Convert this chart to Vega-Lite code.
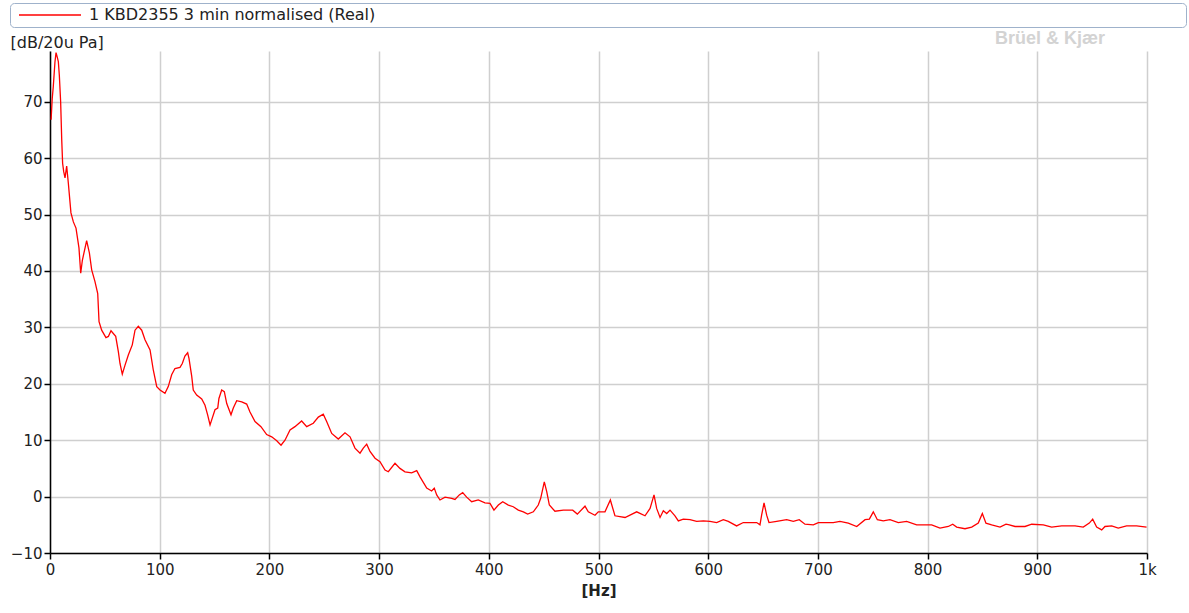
{
  "$schema": "https://vega.github.io/schema/vega-lite/v6.json",
  "width": 1097,
  "height": 502,
  "autosize": {"type": "none"},
  "padding": {"left": 50, "top": 51, "right": 42, "bottom": 60},
  "background": "#ffffff",
  "title": {"text": "Brüel & Kjær", "anchor": "end", "frame": "group", "dx": -42, "offset": -45, "font": "Liberation Sans", "fontSize": 18, "fontWeight": "bold", "color": "#d3d3d3"},
  "config": {"view": {"stroke": null}},
  "data": {"values": [
    {"f": 1, "db": 66.8}, {"f": 2, "db": 70.5}, {"f": 3, "db": 72.7}, {"f": 4.5, "db": 77}, {"f": 5.5, "db": 78.7}, {"f": 6.5, "db": 78}, {"f": 7.6, "db": 77.1}, {"f": 8.5, "db": 74.7}, {"f": 9.7, "db": 70}, {"f": 10.7, "db": 63.2}, {"f": 11.5, "db": 59.1}, {"f": 12.5, "db": 57.6}, {"f": 13.7, "db": 56.5}, {"f": 15.2, "db": 58.6}, {"f": 16.7, "db": 55.6}, {"f": 19.1, "db": 50.3}, {"f": 21.3, "db": 48.7}, {"f": 23.7, "db": 47.6}, {"f": 26.4, "db": 44.1}, {"f": 28, "db": 39.6}, {"f": 29.5, "db": 41.9}, {"f": 33.4, "db": 45.4}, {"f": 35.9, "db": 43.2}, {"f": 38, "db": 40.2}, {"f": 41, "db": 38.1}, {"f": 43.5, "db": 36}, {"f": 44.7, "db": 31}, {"f": 47.1, "db": 29.5}, {"f": 51, "db": 28.2}, {"f": 53.2, "db": 28.4}, {"f": 55.6, "db": 29.4}, {"f": 59.9, "db": 28.4}, {"f": 62.3, "db": 25.7}, {"f": 63.8, "db": 23.6}, {"f": 65.9, "db": 21.7}, {"f": 68.4, "db": 23.3}, {"f": 71.4, "db": 25.1}, {"f": 75, "db": 26.9}, {"f": 77.5, "db": 29.5}, {"f": 80.5, "db": 30.2}, {"f": 83.6, "db": 29.5}, {"f": 86.6, "db": 27.8}, {"f": 91.2, "db": 26}, {"f": 94.2, "db": 22.4}, {"f": 97.3, "db": 19.5}, {"f": 100.3, "db": 18.9}, {"f": 104.8, "db": 18.3}, {"f": 107.8, "db": 19.5}, {"f": 110.9, "db": 21.6}, {"f": 113.9, "db": 22.7}, {"f": 118.5, "db": 22.9}, {"f": 120.6, "db": 23.6}, {"f": 123, "db": 24.9}, {"f": 125.5, "db": 25.5}, {"f": 126.7, "db": 24.5}, {"f": 129.2, "db": 21.3}, {"f": 130.6, "db": 18.9}, {"f": 133.7, "db": 18}, {"f": 138.3, "db": 17.3}, {"f": 141.3, "db": 16.2}, {"f": 143.7, "db": 14.5}, {"f": 145.9, "db": 12.7}, {"f": 147.4, "db": 13.6}, {"f": 150.4, "db": 15.4}, {"f": 152.9, "db": 15.7}, {"f": 154, "db": 17.4}, {"f": 156.5, "db": 18.9}, {"f": 158.9, "db": 18.6}, {"f": 161.1, "db": 16.5}, {"f": 165, "db": 14.5}, {"f": 167.1, "db": 15.7}, {"f": 170.2, "db": 17}, {"f": 174.8, "db": 16.8}, {"f": 179.3, "db": 16.4}, {"f": 182.3, "db": 15}, {"f": 186.9, "db": 13.3}, {"f": 192.3, "db": 12.4}, {"f": 197.5, "db": 11}, {"f": 202.1, "db": 10.6}, {"f": 206.7, "db": 9.9}, {"f": 210.6, "db": 9.1}, {"f": 214.2, "db": 10}, {"f": 218.8, "db": 11.8}, {"f": 223.3, "db": 12.4}, {"f": 229.4, "db": 13.4}, {"f": 234, "db": 12.4}, {"f": 240, "db": 13}, {"f": 244.6, "db": 14.1}, {"f": 249.1, "db": 14.6}, {"f": 252.2, "db": 13.3}, {"f": 256.8, "db": 11.2}, {"f": 262.8, "db": 10.2}, {"f": 268.9, "db": 11.3}, {"f": 273.5, "db": 10.6}, {"f": 278, "db": 8.6}, {"f": 282.6, "db": 7.7}, {"f": 285.6, "db": 8.6}, {"f": 288.7, "db": 9.3}, {"f": 291.7, "db": 8}, {"f": 296.3, "db": 6.8}, {"f": 300.8, "db": 6.2}, {"f": 305.4, "db": 4.7}, {"f": 308.4, "db": 4.4}, {"f": 314.5, "db": 5.9}, {"f": 319, "db": 5}, {"f": 323.6, "db": 4.4}, {"f": 329.7, "db": 4.2}, {"f": 334.3, "db": 4.6}, {"f": 337.3, "db": 3.5}, {"f": 343.4, "db": 1.5}, {"f": 347.9, "db": 1}, {"f": 350.3, "db": 1.5}, {"f": 352.5, "db": 0.3}, {"f": 355.5, "db": -0.6}, {"f": 360.1, "db": -0.1}, {"f": 366.2, "db": -0.3}, {"f": 369.2, "db": -0.5}, {"f": 373.1, "db": 0.3}, {"f": 376.2, "db": 0.7}, {"f": 379.8, "db": -0.1}, {"f": 384.4, "db": -0.9}, {"f": 390.4, "db": -0.6}, {"f": 396.5, "db": -1.1}, {"f": 401.1, "db": -1.2}, {"f": 404.7, "db": -2.4}, {"f": 408.7, "db": -1.5}, {"f": 412.7, "db": -0.9}, {"f": 417.8, "db": -1.5}, {"f": 422.3, "db": -1.8}, {"f": 426.9, "db": -2.4}, {"f": 431.5, "db": -2.7}, {"f": 435.4, "db": -3.1}, {"f": 440.6, "db": -2.7}, {"f": 445.1, "db": -1.5}, {"f": 447.3, "db": -0.3}, {"f": 450.6, "db": 2.6}, {"f": 452.8, "db": 0.9}, {"f": 455.2, "db": -1.5}, {"f": 460.3, "db": -2.6}, {"f": 468, "db": -2.4}, {"f": 476.5, "db": -2.4}, {"f": 480.7, "db": -3.1}, {"f": 487.7, "db": -1.7}, {"f": 490.7, "db": -2.7}, {"f": 496.8, "db": -3.3}, {"f": 499.8, "db": -2.7}, {"f": 505.9, "db": -2.7}, {"f": 510.8, "db": -0.6}, {"f": 515, "db": -3.4}, {"f": 524.2, "db": -3.7}, {"f": 534.8, "db": -2.7}, {"f": 542.4, "db": -3.4}, {"f": 547, "db": -2.1}, {"f": 550.6, "db": 0.3}, {"f": 553, "db": -2.1}, {"f": 556.1, "db": -3.7}, {"f": 559.1, "db": -2.5}, {"f": 562.2, "db": -3}, {"f": 565.2, "db": -2.4}, {"f": 569.7, "db": -3.4}, {"f": 572.8, "db": -4.3}, {"f": 577.3, "db": -4}, {"f": 583.4, "db": -4.1}, {"f": 589.5, "db": -4.4}, {"f": 595.6, "db": -4.3}, {"f": 601.6, "db": -4.4}, {"f": 607.7, "db": -4.6}, {"f": 613.8, "db": -4.1}, {"f": 618.3, "db": -4.4}, {"f": 625.9, "db": -5.2}, {"f": 632, "db": -4.6}, {"f": 644.2, "db": -4.6}, {"f": 647.2, "db": -5}, {"f": 648.7, "db": -3.3}, {"f": 650.9, "db": -1.1}, {"f": 653.3, "db": -3.3}, {"f": 655.4, "db": -4.6}, {"f": 662.4, "db": -4.4}, {"f": 671.5, "db": -4.1}, {"f": 677.6, "db": -4.4}, {"f": 683, "db": -4.1}, {"f": 688.2, "db": -4.9}, {"f": 695.8, "db": -5}, {"f": 700.4, "db": -4.6}, {"f": 714, "db": -4.6}, {"f": 720.1, "db": -4.4}, {"f": 727.7, "db": -4.7}, {"f": 735.4, "db": -5.3}, {"f": 743, "db": -4.1}, {"f": 746.9, "db": -4}, {"f": 750.5, "db": -2.7}, {"f": 754.2, "db": -4.1}, {"f": 759.6, "db": -4.3}, {"f": 765.7, "db": -4.1}, {"f": 773.3, "db": -4.6}, {"f": 780.9, "db": -4.4}, {"f": 790, "db": -5}, {"f": 803.7, "db": -5}, {"f": 811.3, "db": -5.6}, {"f": 818.9, "db": -5.3}, {"f": 822.9, "db": -4.9}, {"f": 826.5, "db": -5.4}, {"f": 834.1, "db": -5.7}, {"f": 840.2, "db": -5.4}, {"f": 846.2, "db": -4.7}, {"f": 849.9, "db": -3}, {"f": 853.2, "db": -4.7}, {"f": 858.4, "db": -5}, {"f": 866, "db": -5.4}, {"f": 871.5, "db": -4.9}, {"f": 874.5, "db": -5}, {"f": 879.7, "db": -5.3}, {"f": 888.8, "db": -5.3}, {"f": 894.9, "db": -4.9}, {"f": 905.5, "db": -5}, {"f": 913.1, "db": -5.4}, {"f": 922.2, "db": -5.2}, {"f": 934.4, "db": -5.2}, {"f": 941.9, "db": -5.4}, {"f": 947.4, "db": -4.7}, {"f": 950.5, "db": -4}, {"f": 954.1, "db": -5.4}, {"f": 958.7, "db": -5.9}, {"f": 961.7, "db": -5.3}, {"f": 967.8, "db": -5.2}, {"f": 973.8, "db": -5.6}, {"f": 981.4, "db": -5.2}, {"f": 990.5, "db": -5.2}, {"f": 999.6, "db": -5.4}
  ]},
  "mark": {"type": "line", "strokeWidth": 1.3},
  "encoding": {
    "x": {
      "field": "f", "type": "quantitative",
      "scale": {"domain": [0, 1000], "nice": false, "zero": false},
      "axis": {
        "values": [0, 100, 200, 300, 400, 500, 600, 700, 800, 900, 1000],
        "labelExpr": "datum.value == 1000 ? '1k' : datum.label",
        "title": "[Hz]", "titleFont": "DejaVu Sans", "titleFontSize": 15, "titleFontWeight": "bold", "titleColor": "#222222", "titlePadding": 6,
        "labelFont": "DejaVu Sans", "labelFontSize": 15, "labelColor": "#222222", "labelPadding": 3, "labelFlush": false,
        "domainColor": "#000000", "domainWidth": 1.5, "tickColor": "#000000", "tickWidth": 1.5, "tickSize": 6,
        "gridColor": "#cfcfcf", "gridWidth": 1.5
      }
    },
    "y": {
      "field": "db", "type": "quantitative",
      "scale": {"domain": [-10, 79], "nice": false, "zero": false},
      "axis": {
        "values": [-10, 0, 10, 20, 30, 40, 50, 60, 70],
        "title": "[dB/20u Pa]", "titleFont": "DejaVu Sans", "titleFontSize": 16, "titleFontWeight": "normal", "titleColor": "#222222",
        "titleAngle": 0, "titleAlign": "left", "titleBaseline": "middle", "titleX": -40, "titleY": -9,
        "labelFont": "DejaVu Sans", "labelFontSize": 15, "labelColor": "#222222", "labelPadding": 2,
        "domainColor": "#000000", "domainWidth": 1.5, "tickColor": "#000000", "tickWidth": 1.5, "tickSize": 6,
        "gridColor": "#cfcfcf", "gridWidth": 1.5
      }
    },
    "color": {
      "datum": "1 KBD2355 3 min normalised (Real)",
      "scale": {"range": ["#ff0000"]},
      "legend": {
        "orient": "none", "legendX": -40, "legendY": -48, "title": null,
        "strokeColor": "#9fb2cb", "cornerRadius": 4, "padding": 4, "fillColor": "#ffffff",
        "labelFont": "DejaVu Sans", "labelFontSize": 16, "labelColor": "#222222", "labelLimit": 3000,
        "labelExpr": "pad(datum.label, 83, '\u2003') + '\u2009\u2009\u200b'",
        "symbolType": "M0,0H31", "symbolSize": 16, "symbolStrokeWidth": 1.5, "symbolStrokeColor": "#ff0000", "symbolFillColor": "transparent",
        "symbolOffset": -3, "labelOffset": 62
      }
    }
  }
}
